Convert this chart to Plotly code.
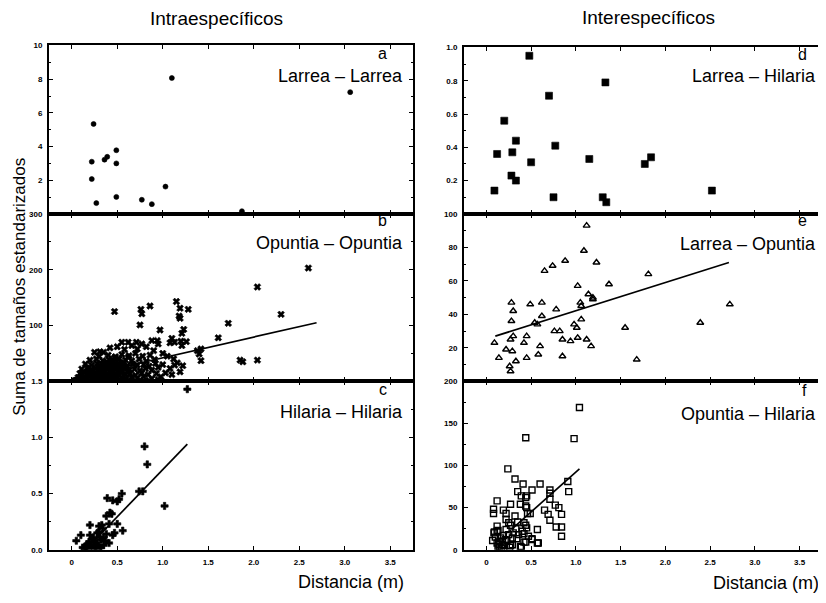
import plotly.graph_objects as go

# ---------------- data ----------------
# a: Larrea - Larrea
a_x = [0.24, 1.10, 3.06, 0.49, 0.22, 0.36, 0.39, 0.49, 0.22, 1.03, 0.49, 0.27, 0.77, 0.88, 1.87]
a_y = [5.34, 8.07, 7.23, 3.78, 3.10, 3.22, 3.39, 3.00, 2.07, 1.62, 1.01, 0.64, 0.84, 0.58, 0.16]

# b: Opuntia - Opuntia
b_x = [2.60, 2.04, 2.30, 1.15, 1.19, 1.28, 0.86, 0.76, 0.77, 0.47, 1.18, 1.19, 0.75, 1.72, 0.97,
       1.21, 1.23, 1.61, 1.26, 1.21, 1.10, 1.08, 1.42, 1.40, 1.42, 1.85, 1.88, 2.04, 1.13, 1.08, 1.19,
       1.13, 1.20, 1.38, 0.55, 0.62, 0.71, 0.77, 0.88, 0.94, 0.95, 0.25, 0.31, 0.35, 0.42, 0.50, 0.58,
       0.66, 0.72, 0.82, 0.90, 1.00, 1.05, 1.12, 1.16, 1.22, 1.00, 0.95, 1.03, 0.98, 1.10,
       0.30, 0.40, 0.48, 0.55, 0.63, 0.70, 0.78, 0.86,
       0.20, 0.27, 0.34, 0.41, 0.46, 0.52, 0.59, 0.66, 0.74, 0.82, 0.91,
       0.15, 0.22, 0.28, 0.33, 0.38, 0.43, 0.47, 0.51, 0.56, 0.61, 0.67, 0.72, 0.79, 0.85, 0.92,
       0.11, 0.17, 0.21, 0.26, 0.30, 0.35, 0.39, 0.43, 0.48, 0.53, 0.58, 0.63, 0.69, 0.75, 0.81, 0.88,
       0.09, 0.13, 0.18, 0.23, 0.27, 0.31, 0.36, 0.40, 0.44, 0.49, 0.54, 0.59, 0.64, 0.70, 0.77, 0.84, 0.93,
       0.07, 0.11, 0.15, 0.19, 0.24, 0.28, 0.32, 0.37, 0.41, 0.46, 0.50, 0.55, 0.60, 0.66, 0.72, 0.79, 0.88,
       0.05, 0.10, 0.14, 0.20, 0.25, 0.30, 0.35, 0.40, 0.45, 0.52, 0.58, 0.65, 0.75, 0.85, 0.95,
       0.33, 0.38, 0.42, 0.45, 0.36, 0.50, 0.29, 0.24, 0.47, 0.57, 0.53,
       0.31, 0.37, 0.44, 0.52, 0.40, 0.34, 0.26, 0.56, 0.61, 0.47, 0.22, 0.18, 0.43, 0.39, 0.49, 0.62]
b_y = [203, 169, 120, 143, 131, 129, 135, 129, 121, 125, 117, 113, 101, 104, 92,
       86, 93, 78, 71, 64, 77, 69, 58, 49, 37, 38, 35, 38, 29, 23, 17,
       70, 72, 55, 70, 70, 70, 67, 73, 73, 67, 52, 53, 52, 60, 62, 57,
       64, 58, 62, 55, 50, 45, 40, 33, 28, 30, 25, 15, 8, 12,
       45, 47, 44, 48, 46, 50, 45, 47,
       38, 40, 37, 39, 36, 40, 38, 37, 40, 36, 39,
       31, 29, 32, 30, 28, 31, 29, 33, 30, 28, 31, 29, 30, 27, 32,
       22, 24, 21, 23, 20, 24, 22, 19, 23, 21, 24, 20, 22, 19, 23, 20,
       14, 16, 13, 15, 12, 16, 14, 12, 15, 13, 16, 12, 14, 11, 15, 12, 14,
       7, 8, 6, 9, 7, 5, 8, 6, 9, 5, 7, 8, 5, 7, 6, 8, 5,
       2, 3, 1, 2, 3, 1, 2, 3, 1, 2, 3, 1, 2, 1, 3,
       18, 10, 26, 10, 33, 17, 26, 19, 42, 34, 27,
       11, 18, 21, 11, 4, 26, 9, 19, 17, 28, 5, 19, 4, 34, 25, 43]
b_line_x = [0.0, 2.69]
b_line_y = [5, 105]

# c: Hilaria - Hilaria
c_x = [1.27, 0.80, 0.83, 1.02, 0.74, 0.78, 0.39, 0.45, 0.50, 0.55, 0.52, 0.42, 0.44, 0.38, 0.50,
       0.20, 0.30, 0.33, 0.41, 0.56, 0.10, 0.20, 0.28, 0.31, 0.38, 0.45, 0.47, 0.05, 0.25, 0.27,
       0.32, 0.35, 0.41, 0.35, 0.12, 0.15, 0.18, 0.21, 0.23, 0.26, 0.29, 0.17, 0.24, 0.30, 0.34,
       0.37, 0.14, 0.19, 0.22, 0.28, 0.32]
c_y = [1.43, 0.92, 0.76, 0.39, 0.52, 0.52, 0.46, 0.44, 0.43, 0.50, 0.45, 0.33, 0.32, 0.30, 0.23,
       0.22, 0.21, 0.22, 0.23, 0.17, 0.13, 0.13, 0.15, 0.11, 0.14, 0.13, 0.15, 0.08, 0.08, 0.06,
       0.09, 0.11, 0.06, 0.04, 0.02, 0.03, 0.01, 0.04, 0.02, 0.03, 0.01, 0.05, 0.11, 0.16, 0.19,
       0.08, 0.00, 0.07, 0.09, 0.04, 0.02]
c_line_x = [0.15, 1.27]
c_line_y = [0.0, 0.94]

# d: Larrea - Hilaria
d_x = [0.48, 1.33, 0.70, 0.20, 0.33, 0.12, 0.29, 0.77, 0.50, 1.15, 1.77, 1.84, 0.28, 0.33, 0.09,
       0.75, 1.30, 1.34, 2.52]
d_y = [0.95, 0.79, 0.71, 0.56, 0.44, 0.36, 0.37, 0.41, 0.31, 0.33, 0.30, 0.34, 0.23, 0.20, 0.14,
       0.10, 0.10, 0.07, 0.14]

# e: Larrea - Opuntia
e_x = [1.12, 1.09, 0.88, 1.23, 0.74, 0.65, 1.81, 1.02, 1.37, 1.14, 1.19, 1.19, 1.05, 1.06, 0.28,
       0.62, 0.49, 0.78, 0.30, 0.28, 0.62, 1.06, 0.54, 0.57, 0.98, 1.01, 0.76, 0.82, 1.55, 2.39,
       2.72, 0.30, 0.45, 0.85, 0.94, 1.02, 1.12, 0.09, 0.42, 0.27, 1.17, 0.60, 0.22, 0.29, 0.58,
       0.85, 0.14, 0.45, 1.68, 0.33, 0.26, 0.27]
e_y = [93, 78, 72, 71, 69, 66, 64, 57, 58, 52, 50, 49, 47, 45, 47,
       47, 46, 43, 42, 36, 39, 37, 35, 34, 34, 32, 30, 30, 32, 35,
       46, 27, 27, 25, 24, 26, 25, 23, 23, 25, 21, 21, 19, 18, 16,
       15, 14, 14, 13, 12, 9, 6]
e_line_x = [0.10, 2.71]
e_line_y = [27, 71]

# f: Opuntia - Hilaria
f_x = [1.04, 0.44, 0.98, 0.24, 0.32, 0.41, 0.60, 0.51, 0.91, 0.92, 0.71, 0.71, 0.35, 0.39, 0.44,
       0.45, 0.71, 0.12, 0.27, 0.38, 0.44, 0.45, 0.77, 0.81, 0.08, 0.08, 0.19, 0.22, 0.46, 0.49,
       0.65, 0.69, 0.71, 0.84, 0.32, 0.22, 0.25, 0.27, 0.35, 0.42, 0.44, 0.78, 0.84, 0.12, 0.13,
       0.09, 0.84, 0.42, 0.51, 0.57, 0.39, 0.26, 0.29,
       0.085, 0.12, 0.07, 0.14, 0.18, 0.20, 0.23, 0.27, 0.29, 0.34, 0.38, 0.44, 0.47, 0.51, 0.58,
       0.57, 0.16, 0.15, 0.19, 0.22, 0.30, 0.33, 0.36, 0.40, 0.42, 0.45, 0.12, 0.17, 0.21, 0.10,
       0.25, 0.15, 0.13, 0.18]
f_y = [169, 133, 132, 96, 84, 78, 78, 71, 81, 69, 71, 67, 69, 64, 62,
       64, 60, 58, 54, 54, 52, 50, 53, 50, 48, 43, 47, 43, 43, 43,
       47, 42, 35, 42, 40, 36, 32, 29, 33, 32, 29, 27, 27, 28, 23,
       21, 16, 9, 12, 8, 3, 3, 6,
       20, 22, 11, 6, 9, 5, 11, 5, 14, 13, 4, 9, 16, 13, 8,
       24, 14, 3, 17, 24, 20, 25, 18, 22, 19, 26, 8, 2, 12, 15,
       18, 10, 4, 6]
f_line_x = [0.30, 1.04]
f_line_y = [26, 96]

x_ticks = [0, 0.5, 1.0, 1.5, 2.0, 2.5, 3.0, 3.5]
x_ticktext = ["0", "0.5", "1.0", "1.5", "2.0", "2.5", "3.0", "3.5"]

panel_letters = ["a", "b", "c", "d", "e", "f"]
panel_names = ["Larrea – Larrea", "Opuntia – Opuntia", "Hilaria – Hilaria",
               "Larrea – Hilaria", "Larrea – Opuntia", "Opuntia – Hilaria"]

# ---------------- figure ----------------
OFF = 8  # default page body margin
W, H = 826 - OFF, 603 - OFF
def fx(p): return (p - OFF) / W
def fy(p): return 1 - (p - OFF) / H

cols = [(49, 413), (464, 822)]
rows = [[(42, 213), (213, 383), (383, 554)], [(44, 213), (213, 383), (383, 554)]]

fig = go.Figure()

def add(i, x, y, symbol, size, open_=False):
    mk = dict(symbol=symbol, size=size, color="black")
    if open_:
        mk["line"] = dict(color="black", width=1.4)
    else:
        mk["line"] = dict(color="black", width=0.6)
    fig.add_trace(go.Scatter(x=x, y=y, mode="markers", marker=mk,
                             xaxis="x" + ("" if i == 1 else str(i)),
                             yaxis="y" + ("" if i == 1 else str(i)),
                             showlegend=False, hoverinfo="skip"))

def addline(i, x, y):
    fig.add_trace(go.Scatter(x=x, y=y, mode="lines", line=dict(color="black", width=1.7),
                             xaxis="x" + ("" if i == 1 else str(i)),
                             yaxis="y" + ("" if i == 1 else str(i)),
                             showlegend=False, hoverinfo="skip"))

add(1, a_x, a_y, "circle", 5)
add(2, b_x, b_y, "x", 6)
addline(2, b_line_x, b_line_y)
add(3, c_x, c_y, "cross", 6)
addline(3, c_line_x, c_line_y)
add(4, d_x, d_y, "square", 7)
add(5, e_x, e_y, "triangle-up-open", 6, True)
addline(5, e_line_x, e_line_y)
add(6, f_x, f_y, "square-open", 6, True)
addline(6, f_line_x, f_line_y)

tickfont = dict(family="Liberation Sans", size=8, color="black", weight="bold")
yspecs = [
    ([0, 10], [2, 4, 6, 8, 10], ["2", "4", "6", "8", "10"], 1),
    ([0, 300], [100, 200, 300], ["100", "200", "300"], 50),
    ([0, 1.5], [0, 0.5, 1.0, 1.5], ["0.0", "0.5", "1.0", "1.5"], 0.25),
    ([0, 1.0], [0.2, 0.4, 0.6, 0.8, 1.0], ["0.2", "0.4", "0.6", "0.8", "1.0"], 0.1),
    ([0, 100], [20, 40, 60, 80, 100], ["20", "40", "60", "80", "100"], 10),
    ([0, 200], [0, 50, 100, 150, 200], ["0", "50", "100", "150", "200"], 25),
]

layout = dict(width=W, height=H, margin=dict(l=0, r=0, t=0, b=0),
              paper_bgcolor="white", plot_bgcolor="white", showlegend=False)
for i in range(6):
    c = i // 3
    r = i % 3
    x0, x1 = cols[c]
    y0, y1 = rows[c][r]
    n = "" if i == 0 else str(i + 1)
    show_x = (r == 2)
    layout["xaxis" + n] = dict(
        domain=[fx(x0), fx(x1)], range=[-0.25, 3.75], anchor="y" + n,
        tickvals=x_ticks, ticktext=x_ticktext, showticklabels=show_x,
        ticks="inside", ticklen=4, tickwidth=1, tickcolor="black",
        showline=True, linecolor="black", linewidth=2, mirror="ticks",
        showgrid=False, zeroline=False, tickfont=tickfont, ticklabelstandoff=4)
    rng, tv, tt, minor = yspecs[i]
    layout["yaxis" + n] = dict(
        domain=[fy(y1), fy(y0)], range=rng, anchor="x" + n,
        tickvals=tv, ticktext=tt, ticks="inside", ticklen=4, tickwidth=1,
        tickcolor="black", showline=True, linecolor="black", linewidth=2,
        mirror="ticks", showgrid=False, zeroline=False, tickfont=tickfont,
        minor=dict(dtick=minor, ticks="inside", ticklen=2, tickcolor="black"),
        ticklabelstandoff=3)

fig.update_layout(**layout)

tfont = dict(family="Liberation Sans", size=18, color="black")
lfont = dict(family="Liberation Sans", size=16, color="black")
ann = []
letter_pos = [(388, 50), (388, 220), (388, 391), (808, 51), (808, 220), (808, 392)]
name_pos = [(404, 73), (404, 243), (404, 414), (817, 73), (817, 244), (817, 416)]
for i in range(6):
    lx, ly = letter_pos[i]
    nx, ny = name_pos[i]
    ann.append(dict(x=fx(lx), y=fy(ly), xref="paper", yref="paper", text=panel_letters[i],
                    showarrow=False, xanchor="right", yanchor="middle", font=lfont, borderpad=0))
    ann.append(dict(x=fx(nx), y=fy(ny), xref="paper", yref="paper", text=panel_names[i],
                    showarrow=False, xanchor="right", yanchor="middle", font=tfont, borderpad=0))

ann.append(dict(x=fx(216), y=fy(15), xref="paper", yref="paper", text="Intraespecíficos",
                showarrow=False, xanchor="center", yanchor="middle",
                font=dict(family="Liberation Sans", size=19, color="black")))
ann.append(dict(x=fx(648), y=fy(14), xref="paper", yref="paper", text="Interespecíficos",
                showarrow=False, xanchor="center", yanchor="middle",
                font=dict(family="Liberation Sans", size=19, color="black")))
ann.append(dict(x=fx(20), y=fy(287), xref="paper", yref="paper", text="Suma de tamaños estandarizados",
                showarrow=False, xanchor="center", yanchor="middle", textangle=-90,
                font=dict(family="Liberation Sans", size=17, color="black"), borderpad=0))
ann.append(dict(x=fx(406), y=fy(587), xref="paper", yref="paper", text="Distancia (m)",
                showarrow=False, xanchor="right", yanchor="middle", font=tfont))
ann.append(dict(x=fx(821), y=fy(588), xref="paper", yref="paper", text="Distancia (m)",
                showarrow=False, xanchor="right", yanchor="middle", font=tfont))
fig.update_layout(annotations=ann)

fig.write_html("out.html")
